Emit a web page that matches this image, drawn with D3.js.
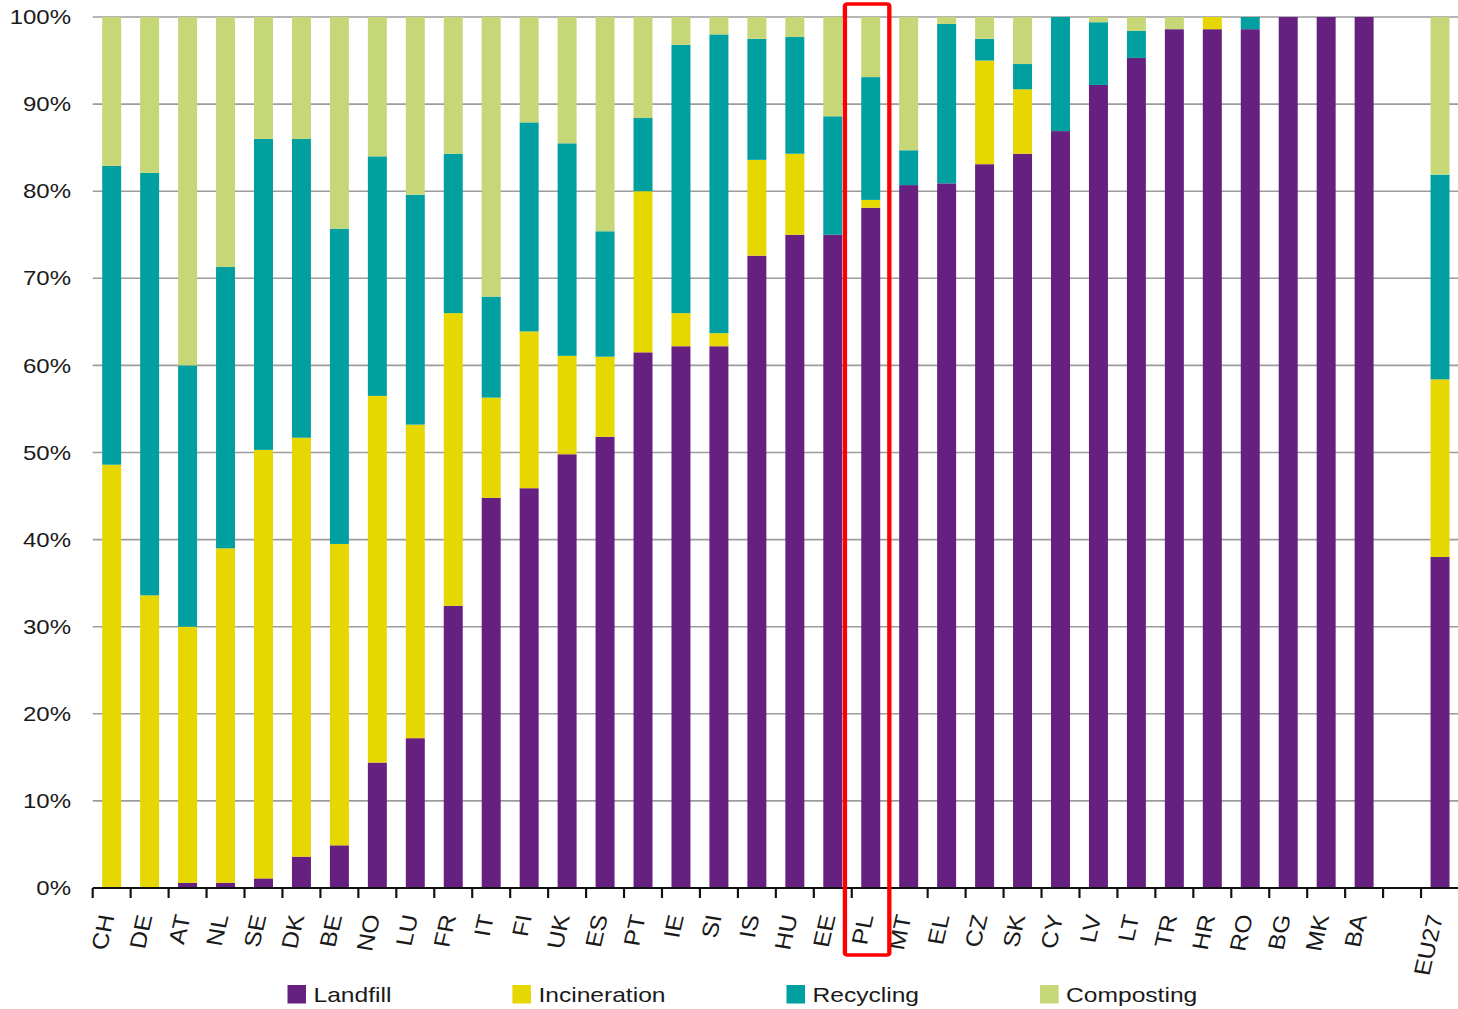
<!doctype html>
<html>
<head>
<style>
  body { margin: 0; background: #fff; }
  text { font-family: "Liberation Sans", Arial, sans-serif; fill: #1a1a1a; }
</style>
<script src="https://d3js.org/d3.v7.min.js"></script>
</head>
<body>
<div id="chart"></div>
<script>
// categories, "" is the empty slot before EU27
var countries = ["CH","DE","AT","NL","SE","DK","BE","NO","LU","FR","IT","FI","UK","ES","PT","IE","SI","IS","HU","EE","PL","MT","EL","CZ","SK","CY","LV","LT","TR","HR","RO","BG","MK","BA","","EU27"];
var series = ["Landfill","Incineration","Recycling","Composting"];
var colors = ["#66207f","#e6d700","#00a0a1","#c6d778"];
// shares in %, one value per country ("" has none)
var landfill     = [0,0,0.6,0.6,1.1,3.6,4.9,14.4,17.2,32.4,44.8,45.9,49.8,51.8,61.5,62.2,62.2,72.6,75.0,75.0,78.1,80.7,80.9,83.1,84.3,86.9,92.2,95.3,98.6,98.6,98.6,100,100,100,null,38.0];
var incineration = [48.6,33.6,29.4,38.4,49.2,48.1,34.6,42.1,36.0,33.6,11.5,18.0,11.3,9.2,18.5,3.8,1.5,11.0,9.3,0,0.9,0,0,11.9,7.4,0,0,0,0,1.4,0,0,0,0,null,20.4];
var recycling    = [34.3,48.5,30.0,32.3,35.7,34.3,36.2,27.5,26.4,18.3,11.6,24.0,24.4,14.4,8.4,30.8,34.3,13.9,13.4,13.6,14.1,4.0,18.3,2.5,2.9,13.1,7.2,3.1,0,0,1.4,0,0,0,null,23.5];
var composting   = [17.1,17.9,40.0,28.7,14.0,14.0,24.3,16.0,20.4,15.7,32.1,12.1,14.5,24.6,11.6,3.2,2.0,2.5,2.3,11.4,6.9,15.3,0.8,2.5,5.4,0,0.6,1.6,1.4,0,0,0,0,0,null,18.1];
var yTicks = [0,10,20,30,40,50,60,70,80,90,100];
var highlight = "PL";

var W = 1458, H = 1009;
var sx = 1.2; // the whole picture is stretched sideways

var rows = countries.map(function(c, i) {
  return {country: c, Landfill: landfill[i], Incineration: incineration[i],
          Recycling: recycling[i], Composting: composting[i]};
}).filter(function(d) { return d.country !== ""; });

var svg = d3.select("#chart").append("svg")
  .attr("width", W).attr("height", H);
var g = svg.append("g").attr("transform", "scale(" + sx + ",1)");

var x = d3.scaleBand().domain(countries).range([92.7 / sx, 1459 / sx]).padding(0);
var y = d3.scaleLinear().domain([0, 100]).range([888, 17]);
var color = d3.scaleOrdinal().domain(series).range(colors);

// gridlines
g.append("g").selectAll("line")
  .data(yTicks.filter(function(t) { return t > 0; }))
  .enter().append("line")
  .attr("x1", x.range()[0]).attr("x2", x.range()[1])
  .attr("y1", function(d) { return y(d); }).attr("y2", function(d) { return y(d); })
  .attr("stroke", "#9c9c9c").attr("stroke-width", 1.6);

// y labels
g.append("g").selectAll("text")
  .data(yTicks)
  .enter().append("text")
  .attr("x", 71 / sx)
  .attr("y", function(d) { return y(d); })
  .attr("dy", "0.36em")
  .attr("text-anchor", "end")
  .style("font-size", "20px")
  .text(function(d) { return d + "%"; });

// stacked bars
var stack = d3.stack().keys(series)(rows);
var bw = x.bandwidth() * 0.5;
g.append("g").selectAll("g")
  .data(stack)
  .enter().append("g")
  .attr("fill", function(d) { return color(d.key); })
  .selectAll("rect")
  .data(function(d) { return d; })
  .enter().append("rect")
  .attr("x", function(d) { return x(d.data.country) + (x.bandwidth() - bw) / 2; })
  .attr("width", bw)
  .attr("y", function(d) { return y(d[1]); })
  .attr("height", function(d) { return y(d[0]) - y(d[1]); });

// baseline and ticks on slot edges
g.append("line")
  .attr("x1", x.range()[0]).attr("x2", x.range()[1])
  .attr("y1", y(0)).attr("y2", y(0))
  .attr("stroke", "#111").attr("stroke-width", 2);
g.append("g").selectAll("line")
  .data(countries)
  .enter().append("line")
  .attr("x1", function(d) { return x(d); }).attr("x2", function(d) { return x(d); })
  .attr("y1", y(0)).attr("y2", y(0) + 10)
  .attr("stroke", "#111").attr("stroke-width", 1.8);

// country labels (slanted, drawn long and narrow like the original)
g.append("g").selectAll("text")
  .data(countries)
  .enter().append("text")
  .attr("transform", function(d) {
    return "translate(" + (x(d) + x.bandwidth() / 2 + 3 / sx) + ",916) rotate(-79) scale(1.3,1)";
  })
  .attr("text-anchor", "end")
  .style("font-size", "19px")
  .text(function(d) { return d; });

// red box around the highlighted country
g.append("rect")
  .attr("x", x(highlight) - x.bandwidth() * 0.18)
  .attr("y", 4)
  .attr("width", x.bandwidth() * 1.17)
  .attr("height", 951)
  .attr("rx", 2)
  .attr("fill", "none")
  .attr("stroke", "#ff0000")
  .attr("stroke-width", 3.6);

// legend
var legend = g.append("g");
var lx = 287.5 / sx;
series.forEach(function(s) {
  legend.append("rect")
    .attr("x", lx).attr("y", 985)
    .attr("width", 18.5 / sx).attr("height", 18.5)
    .attr("fill", color(s));
  var t = legend.append("text")
    .attr("x", lx + 26 / sx).attr("y", 1002)
    .style("font-size", "20.5px")
    .text(s);
  lx += 26 / sx + t.node().getComputedTextLength() + 121 / sx;
});
</script>
</body>
</html>
